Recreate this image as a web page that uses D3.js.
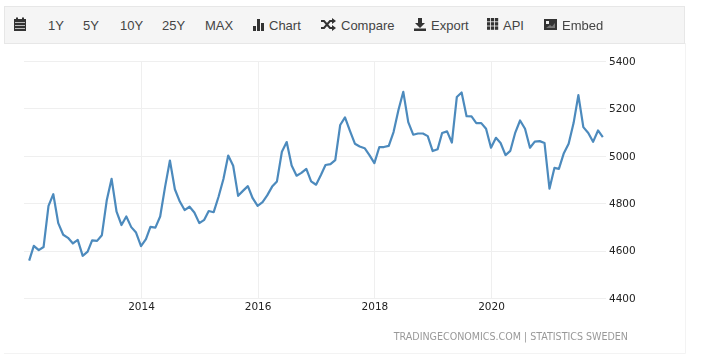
<!DOCTYPE html>
<html>
<head>
<meta charset="utf-8">
<script src="https://cdn.jsdelivr.net/npm/d3@7"></script>
<style>
  html, body { margin: 0; padding: 0; background: #fff; }
  svg { display: block; filter: blur(0.45px); }
  .nav text { font-family: "Liberation Sans", Arial, sans-serif; font-size: 13px; fill: #444; }
  .axis text { font-family: "DejaVu Sans", Tahoma, sans-serif; font-size: 10.5px; fill: #222; }
</style>
</head>
<body>
<div id="chart"></div>
<script>
// Monthly values, Feb 2012 to Dec 2021
const startDate = new Date(2012, 1, 1);
const values = [
  4558, 4620, 4602, 4615, 4789, 4838, 4716, 4667, 4654, 4630, 4645,
  4578, 4596, 4643, 4641, 4665, 4814, 4903, 4764, 4708, 4744, 4699, 4676,
  4619, 4648, 4700, 4697, 4744, 4870, 4980, 4859, 4807, 4771, 4785, 4761, 4716,
  4730, 4767, 4762, 4826, 4902, 5001, 4958, 4831, 4852, 4872, 4821,
  4789, 4805, 4833, 4870, 4892, 5017, 5058, 4959, 4916, 4928, 4945, 4892,
  4878, 4920, 4961, 4965, 4982, 5130, 5162, 5105, 5051, 5039, 5032, 5003,
  4969, 5037, 5037, 5042, 5100, 5194, 5270, 5142, 5089, 5094, 5094, 5083,
  5020, 5028, 5096, 5103, 5056, 5248, 5267, 5167, 5166, 5138, 5138, 5114,
  5034, 5076, 5054, 5003, 5021, 5098, 5149, 5114, 5034, 5060, 5062, 5054,
  4861, 4949, 4945, 5011, 5051, 5138, 5256, 5121, 5096, 5059, 5107, 5079
];
const yTicks = [4400, 4600, 4800, 5000, 5200, 5400];
const xTickYears = [2014, 2016, 2018, 2020];
const rangeButtons = ['1Y', '5Y', '10Y', '25Y', 'MAX'];
const creditText = 'TRADINGECONOMICS.COM | STATISTICS SWEDEN';

const width = 702, height = 364;
const svg = d3.select('#chart').append('svg')
    .attr('width', width)
    .attr('height', height);

// Panel outline
svg.append('path')
    .attr('d', 'M685.5,43V353.5H4')
    .attr('fill', 'none')
    .attr('stroke', '#f3f3f3');

// --- Toolbar ---
const nav = svg.append('g').attr('class', 'nav');
nav.append('rect')
    .attr('x', 4.5).attr('y', 6.5)
    .attr('width', 680).attr('height', 37)
    .attr('fill', '#f5f5f5')
    .attr('stroke', '#e7e7e7');

const iconColor = '#333';

// calendar
const cal = nav.append('g').attr('transform', 'translate(14,18)').attr('fill', iconColor);
cal.append('rect').attr('x', 0).attr('y', 1).attr('width', 12).attr('height', 12);
cal.append('rect').attr('x', 2).attr('y', -0.5).attr('width', 2).attr('height', 2);
cal.append('rect').attr('x', 8).attr('y', -0.5).attr('width', 2).attr('height', 2);
[5, 8, 11].forEach(y => {
    cal.append('rect').attr('x', 1).attr('y', y - 1).attr('width', 10).attr('height', 1).attr('fill', '#bbb');
});

const rangeX = [48, 83, 120, 162, 205];
nav.selectAll('.range')
    .data(rangeButtons)
    .enter().append('text')
    .attr('class', 'range')
    .attr('x', (d, i) => rangeX[i])
    .attr('y', 30)
    .text(d => d);

// Chart icon (bars)
const bars = nav.append('g').attr('transform', 'translate(253,18)').attr('fill', iconColor);
[[0, 8, 3, 5], [4, 1, 3, 12], [8, 5, 3, 8]].forEach(b => {
    bars.append('rect').attr('x', b[0]).attr('y', b[1]).attr('width', b[2]).attr('height', b[3]);
});
nav.append('text').attr('x', 269).attr('y', 30).text('Chart');

// Compare icon (crossing arrows)
const cross = nav.append('g').attr('transform', 'translate(321,19)')
    .attr('fill', 'none').attr('stroke', iconColor).attr('stroke-width', 2);
cross.append('path').attr('d', 'M0,2H3L9,9H12');
cross.append('path').attr('d', 'M0,9H3L9,2H12');
cross.append('path').attr('d', 'M11,-1V5L15,2ZM11,6V12L15,9Z').attr('fill', iconColor).attr('stroke', 'none');
nav.append('text').attr('x', 341).attr('y', 30).text('Compare');

// Export icon
const exp = nav.append('g').attr('transform', 'translate(414,18)').attr('fill', iconColor);
exp.append('path').attr('d', 'M4,0H8V5H11L6,10L1,5H4Z');
exp.append('rect').attr('x', 0).attr('y', 10.5).attr('width', 12).attr('height', 2.5);
nav.append('text').attr('x', 431).attr('y', 30).text('Export');

// API icon (grid)
const grid = nav.append('g').attr('transform', 'translate(487,18)').attr('fill', iconColor);
d3.range(3).forEach(r => d3.range(3).forEach(c => {
    grid.append('rect').attr('x', c * 4).attr('y', r * 4.2).attr('width', 3.2).attr('height', 3.4);
}));
nav.append('text').attr('x', 503).attr('y', 30).text('API');

// Embed icon (picture)
const emb = nav.append('g').attr('transform', 'translate(544,19)');
emb.append('rect').attr('width', 13).attr('height', 11).attr('fill', iconColor);
emb.append('rect').attr('x', 2).attr('y', 2).attr('width', 3).attr('height', 3).attr('fill', '#eee');
emb.append('path').attr('d', 'M2,9L6,6L8,7.5L11,4V9Z').attr('fill', '#777');
nav.append('text').attr('x', 562).attr('y', 30).text('Embed');

// --- Chart ---
const dates = values.map((d, i) => d3.timeMonth.offset(startDate, i));

const x = d3.scaleTime()
    .domain([new Date(2014, 0, 1), new Date(2020, 0, 1)])
    .range([141, 491]);

const y = d3.scaleLinear()
    .domain([4400, 5400])
    .range([298, 61]);

const gridLeft = 24, gridRight = 606;

svg.append('g').selectAll('line')
    .data(yTicks)
    .enter().append('line')
    .attr('x1', gridLeft).attr('x2', gridRight)
    .attr('y1', d => Math.round(y(d)) + 0.5).attr('y2', d => Math.round(y(d)) + 0.5)
    .attr('stroke', '#efefef');

svg.append('g').selectAll('line')
    .data(xTickYears)
    .enter().append('line')
    .attr('x1', d => Math.round(x(new Date(d, 0, 1))) + 0.5)
    .attr('x2', d => Math.round(x(new Date(d, 0, 1))) + 0.5)
    .attr('y1', 61).attr('y2', 298)
    .attr('stroke', '#efefef');

// Axes, labels only
const yAxis = svg.append('g')
    .attr('class', 'axis')
    .attr('transform', 'translate(609,0)')
    .call(d3.axisRight(y).tickValues(yTicks).tickFormat(d3.format('d')).tickSize(0).tickPadding(0));
yAxis.select('.domain').remove();

const xAxis = svg.append('g')
    .attr('class', 'axis')
    .attr('transform', 'translate(0,298)')
    .call(d3.axisBottom(x)
        .tickValues(xTickYears.map(d => new Date(d, 0, 1)))
        .tickFormat(d3.timeFormat('%Y'))
        .tickSize(0).tickPadding(5));
xAxis.select('.domain').remove();

const line = d3.line()
    .x((d, i) => x(dates[i]))
    .y(d => y(d));

svg.append('path')
    .datum(values)
    .attr('d', line)
    .attr('fill', 'none')
    .attr('stroke', '#4c8abd')
    .attr('stroke-width', 2.2)
    .attr('stroke-linejoin', 'round');

svg.append('text')
    .attr('x', 628).attr('y', 340)
    .attr('text-anchor', 'end')
    .style('font-family', '"DejaVu Sans Condensed", "DejaVu Sans", Tahoma, sans-serif')
    .style('font-size', '10.6px')
    .style('fill', '#999')
    .text(creditText);
</script>
</body>
</html>
